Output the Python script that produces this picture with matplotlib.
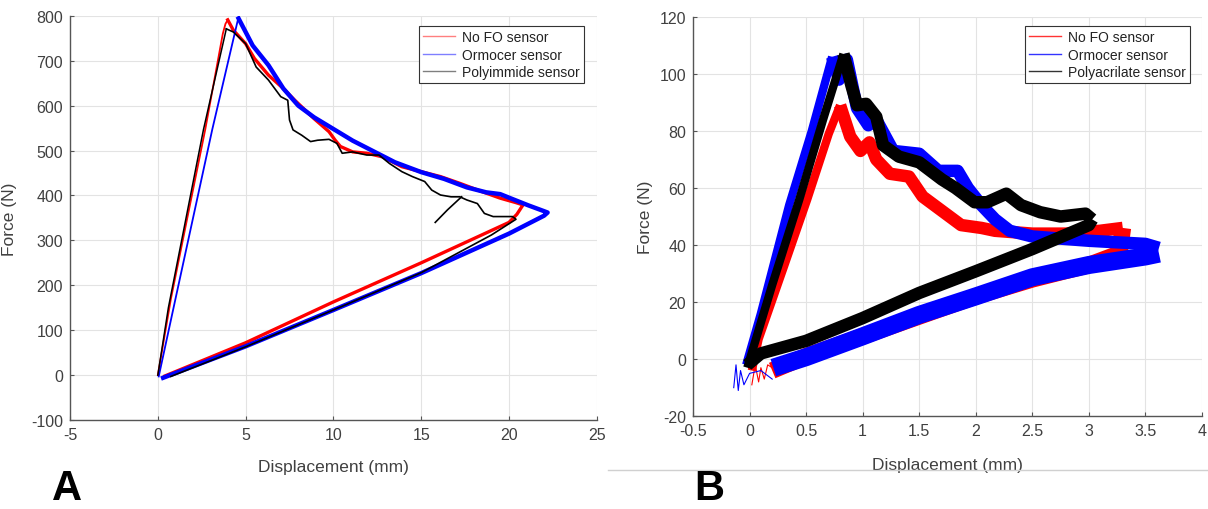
import matplotlib
matplotlib.use('Agg')
import matplotlib.pyplot as plt
from matplotlib.lines import Line2D

plt.rcParams['font.family'] = ['Liberation Sans', 'DejaVu Sans']
plt.rcParams['axes.unicode_minus'] = False

# ---- panel A: force vs displacement (smooth curves)
a_red_load_x = [0, 0.74, 2.7, 3.7, 3.85, 3.98]
a_red_load_y = [0, 169, 547, 760, 782, 791]
a_red_x = [3.98, 4.3, 5.0, 5.5, 6.3, 7.15, 7.8, 8.9, 9.75, 10.1, 10.4, 11.1, 11.9, 12.8,
           13.9, 15.0, 16.1, 17.2, 18.5, 19.5, 20.4, 20.8, 20.45, 20.0, 15.0, 10.0, 5.0, 0.4]
a_red_y = [791, 768, 738, 705, 668, 638, 612, 571, 542, 523, 509, 497, 494, 486,
           464, 453, 442, 427, 408, 394, 384, 379, 358, 340, 250, 163, 72, -2]

a_blue_load_x = [0.05, 1.0, 3.1, 4.6]
a_blue_load_y = [-3, 169, 547, 798]
a_blue_x = [4.6, 5.4, 6.3, 7.15, 8.0, 8.9, 10.0, 11.1, 12.4, 13.5, 15.0, 16.3, 17.6, 18.7,
            19.5, 20.2, 21.1, 22.0, 22.2, 22.0, 20.0, 15.0, 10.0, 5.0, 0.3]
a_blue_y = [794, 734, 690, 638, 600, 574, 548, 522, 496, 474, 452, 437, 418, 407,
            403, 392, 378, 365, 362, 355, 315, 227, 145, 64, -6]

a_black_load_x = [0, 0.6, 2.6, 3.9]
a_black_load_y = [0, 150, 547, 771]
a_black_x = [3.9, 4.3, 5.0, 5.6, 6.3, 7.0, 7.4, 7.5, 7.7, 8.2, 8.7, 9.1, 9.75, 10.2, 10.5,
             11.1, 11.9, 12.6, 13.2, 13.9, 14.5, 15.2, 15.6, 16.1, 16.7, 17.2, 17.6, 18.2,
             18.6, 19.1, 20.2, 20.4, 19.0, 15.0, 10.0, 5.0, 0.74]
a_black_y = [771, 764, 738, 686, 657, 620, 612, 568, 546, 534, 520, 523, 525, 516, 494,
             497, 490, 490, 471, 453, 442, 431, 412, 401, 397, 397, 390, 382,
             360, 353, 353, 347, 312, 228, 145, 63, -3]
a_black_spur_x = [15.8, 16.5, 17.3]
a_black_spur_y = [340, 368, 397]

a_labels = ['No FO sensor', 'Ormocer sensor', 'Polyimmide sensor']

# ---- panel B: noisy bands (centre lines)
b_red_load_x = [0.02, 0.08, 0.3, 0.51, 0.7, 0.8]
b_red_load_y = [-4, 7, 32, 56, 79, 89]
b_red_soft_x = [0.8, 0.89, 0.98, 1.06, 1.12, 1.24, 1.41, 1.53, 1.7, 1.87, 2.05, 2.17,
                2.5, 2.8, 3.1, 3.3]
b_red_soft_y = [89, 78, 73, 76, 70, 65, 64, 57, 52, 47, 46, 45, 44, 44, 45, 46]
b_red_unload_x = [3.3, 3.27, 3.0, 2.5, 2.0, 1.5, 1.0, 0.5, 0.2]
b_red_unload_y = [46, 37, 33, 28, 22, 15, 8, 1, -4]
b_red_tail_x = [0.02, 0.05, 0.08, 0.1, 0.13, 0.16, 0.2]
b_red_tail_y = [-9, -2, -8, -3, -7, -2, -3]

b_blue_load_x = [-0.03, 0.1, 0.35, 0.55, 0.73]
b_blue_load_y = [-2, 16, 54, 80, 106]
b_blue_soft_x = [0.73, 0.79, 0.86, 0.95, 1.05, 1.12, 1.27, 1.5, 1.67, 1.84, 1.93, 2.05,
                 2.17, 2.3, 2.5, 3.0, 3.5, 3.62]
b_blue_soft_y = [106, 98, 105, 88, 82, 84, 73, 72, 66, 66, 60, 54, 49, 45, 43, 41.5, 40.4, 39]
b_blue_unload_x = [3.62, 3.5, 3.0, 2.5, 2.0, 1.5, 1.0, 0.5, 0.21]
b_blue_unload_y = [37, 36, 33, 28.7, 22, 15.5, 8, 0.7, -3]
b_blue_tail_x = [-0.14, -0.12, -0.1, -0.08, -0.05, 0.0, 0.1, 0.2]
b_blue_tail_y = [-10, -2, -11, -4, -9, -5, -4, -7]

b_black_load_x = [-0.02, 0.2, 0.44, 0.65, 0.83]
b_black_load_y = [-3, 26, 56, 84, 107]
b_black_soft_x = [0.83, 0.9, 0.95, 1.03, 1.12, 1.18, 1.32, 1.5, 1.7, 1.82, 1.99, 2.1,
                  2.27, 2.4, 2.57, 2.75, 2.97, 3.03]
b_black_soft_y = [107, 96, 89, 89.5, 85, 75, 71, 69, 63, 60, 55, 55, 58, 54, 51.5, 50, 51, 49]
b_black_unload_x = [3.03, 3.0, 2.5, 2.0, 1.5, 1.0, 0.5, 0.1, -0.02]
b_black_unload_y = [49, 47, 38.6, 30.8, 23.2, 14.4, 6.4, 2, -2]

b_labels = ['No FO sensor', 'Ormocer sensor', 'Polyacrilate sensor']

RED, BLUE, BLACK = '#ff0000', '#0000ff', '#000000'
AXC = '#404040'


def style_axes(ax, xlim, ylim, xticks, yticks, xticklabels=None):
    ax.set_xlim(*xlim)
    ax.set_ylim(*ylim)
    ax.set_xticks(xticks)
    ax.set_yticks(yticks)
    if xticklabels is not None:
        ax.set_xticklabels(xticklabels)
    ax.grid(True, color='#e3e3e3', lw=0.8)
    ax.set_axisbelow(True)
    for s in ['top', 'right']:
        ax.spines[s].set_visible(False)
    for s in ['left', 'bottom']:
        ax.spines[s].set_color('#555555')
        ax.spines[s].set_linewidth(1.0)
    ax.tick_params(direction='in', length=3, colors='#555555', labelcolor=AXC,
                   labelsize=11.5, pad=5)
    ax.set_xlabel('Displacement (mm)', fontsize=12.5, color=AXC)
    ax.set_ylabel('Force (N)', fontsize=12.5, color=AXC)


def add_legend(ax, labels, anchor, alpha):
    handles = [Line2D([], [], color=c, lw=1.0, alpha=alpha) for c in (RED, BLUE, BLACK)]
    leg = ax.legend(handles, labels, loc='upper right', bbox_to_anchor=anchor,
                    bbox_transform=ax.figure.transFigure, fontsize=10,
                    frameon=True, fancybox=False, framealpha=1, edgecolor='#333333',
                    handlelength=2.3, handletextpad=0.5, labelspacing=0.25,
                    borderpad=0.3, borderaxespad=0)
    leg.get_frame().set_linewidth(0.8)
    for t in leg.get_texts():
        t.set_color('#222222')


fig = plt.figure(figsize=(12.08, 5.1), dpi=100)

# ---------------- panel A
ax1 = fig.add_axes([0.058, 0.1745, 0.436, 0.7925])
ax1.plot(a_red_load_x, a_red_load_y, color=RED, lw=1.3)
ax1.plot(a_red_x, a_red_y, color=RED, lw=2.4, solid_joinstyle='round')
ax1.plot(a_blue_load_x, a_blue_load_y, color=BLUE, lw=1.3)
ax1.plot(a_blue_x, a_blue_y, color=BLUE, lw=3.2, solid_joinstyle='round')
ax1.plot(a_black_load_x, a_black_load_y, color=BLACK, lw=1.1)
ax1.plot(a_black_x, a_black_y, color=BLACK, lw=1.2, solid_joinstyle='round')
ax1.plot(a_black_spur_x, a_black_spur_y, color=BLACK, lw=1.2)
style_axes(ax1, (-5, 25), (-100, 800), range(-5, 26, 5), range(-100, 801, 100))
ax1.yaxis.set_label_coords(-0.1, 0.5)
ax1.xaxis.set_label_coords(0.5, -0.097)
add_legend(ax1, a_labels, (0.4834, 0.947), 0.5)

# ---------------- panel B
ax2 = fig.add_axes([0.5737, 0.182, 0.4213, 0.783])
kw = dict(solid_joinstyle='round', solid_capstyle='butt')
ax2.plot(b_red_tail_x, b_red_tail_y, color=RED, lw=0.8)
ax2.plot(b_red_load_x, b_red_load_y, color=RED, lw=6, **kw)
ax2.plot(b_red_soft_x, b_red_soft_y, color=RED, lw=9, **kw)
ax2.plot(b_red_unload_x, b_red_unload_y, color=RED, lw=12, **kw)
ax2.plot(b_blue_tail_x, b_blue_tail_y, color=BLUE, lw=0.8)
ax2.plot(b_blue_load_x, b_blue_load_y, color=BLUE, lw=6, **kw)
ax2.plot(b_blue_soft_x, b_blue_soft_y, color=BLUE, lw=9, **kw)
ax2.plot(b_blue_unload_x, b_blue_unload_y, color=BLUE, lw=13, **kw)
ax2.plot(b_black_load_x, b_black_load_y, color=BLACK, lw=6, **kw)
ax2.plot(b_black_soft_x, b_black_soft_y, color=BLACK, lw=9, **kw)
ax2.plot(b_black_unload_x, b_black_unload_y, color=BLACK, lw=9, **kw)
b_ticks = [-0.5, 0, 0.5, 1, 1.5, 2, 2.5, 3, 3.5, 4]
style_axes(ax2, (-0.5, 4), (-20, 120), b_ticks, range(-20, 121, 20),
           [f'{t:g}' for t in b_ticks])
ax2.yaxis.set_label_coords(-0.078, 0.5)
ax2.xaxis.set_label_coords(0.5, -0.103)
add_legend(ax2, b_labels, (0.985, 0.947), 0.8)

# separator line under panel B and panel letters
fig.add_artist(Line2D([608 / 1208, 1.0], [1 - 471 / 510] * 2, color='#d0d0d0', lw=1.0))
fig.text(52 / 1208, 1 / 510, 'A', fontsize=30, fontweight='bold', ha='left', va='bottom')
fig.text(694 / 1208, 1 / 510, 'B', fontsize=30, fontweight='bold', ha='left', va='bottom')

fig.savefig('out.png', dpi=100)
